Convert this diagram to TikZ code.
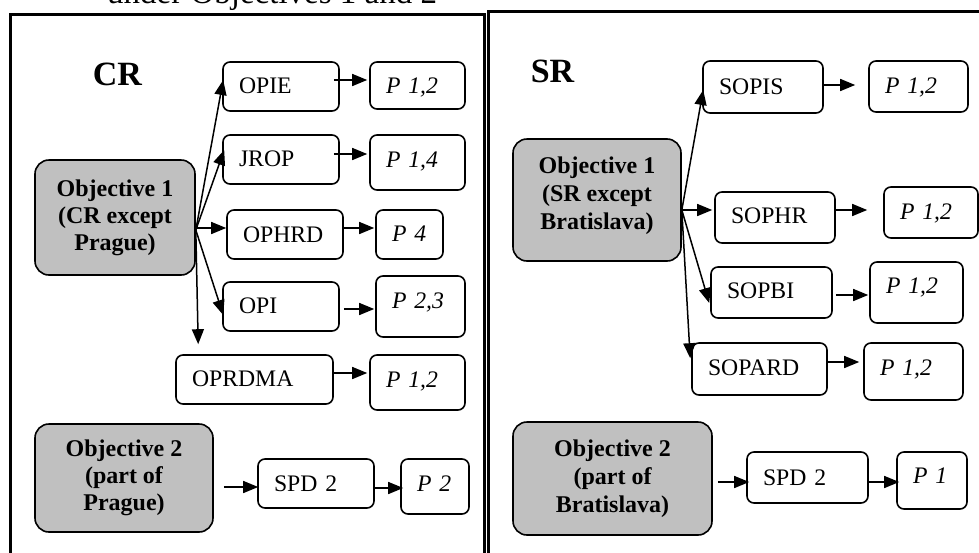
\documentclass[tikz,border=0pt]{standalone}
\usepackage{fontspec}
\setmainfont{Liberation Serif}
\usetikzlibrary{arrows.meta,calc}
\definecolor{objgray}{HTML}{C0C0C0}
\begin{document}
\begin{tikzpicture}[x=1pt,y=-1pt,
  box/.style={draw, line width=1.6pt, rounded corners=7pt, inner xsep=16pt, inner ysep=0pt,
    align=left, font=\fontsize{23.7}{27}\selectfont, text height=16pt, text depth=0pt},
  pbox/.style={box, font=\fontsize{23.7}{27}\selectfont\itshape},
  objbox/.style={draw, line width=1.6pt, rounded corners=14pt, fill=objgray, align=center,
    inner sep=0pt, font=\fontsize{24}{27}\selectfont\bfseries},
  arr/.style={line width=1.5pt, -{Triangle[length=15pt,width=12pt]}},
  panel/.style={line width=3pt},
  country/.style={anchor=base, inner sep=0pt, font=\fontsize{34}{36}\selectfont\bfseries},
]
\useasboundingbox (0,0) rectangle (979,552);
\clip (0,0) rectangle (979,552);

% title (cut off at the top)
\node[anchor=base west, inner sep=0pt, font=\fontsize{33}{36}\selectfont] (title) at (107,3) {under Objectives 1 and 2};

% panels
\draw[panel] (10,14) rectangle (484.5,575);
\draw[panel] (488.5,11.5) rectangle (1000,575);

% ---------------- CR ----------------
\node[country] (cr) at (117.5,85) {CR};
\node[objbox, minimum width=160pt, minimum height=115pt] (obj1) at (115,217.5) {Objective 1\\(CR except\\Prague)};
\node[objbox, minimum width=178pt, minimum height=108pt] (obj2) at (124,478) {Objective 2\\(part of\\Prague)};

\node[box, text width=84pt, minimum height=49pt, text depth=3pt] (opie) at (281,86.5) {OPIE};
\node[pbox, text width=63pt, minimum height=47pt] (p12a) at (417.5,85.5) {P 1,2};
\node[box, text width=84pt, minimum height=49pt, text depth=3pt] (jrop) at (281,159.5) {JROP};
\node[pbox, text width=63pt, minimum height=55pt, text depth=7pt] (p14) at (417.5,162.5) {P 1,4};
\node[box, text width=84pt, minimum height=49pt, text depth=1pt] (ophrd) at (285,234.5) {OPHRD};
\node[pbox, text width=35pt, minimum height=49pt, text depth=2pt] (p4) at (409.5,234.5) {P 4};
\node[box, text width=84pt, minimum height=49pt, text depth=3pt] (opi) at (281,306.5) {OPI};
\node[pbox, text width=57pt, minimum height=61pt, text depth=13pt] (p23) at (420.5,306.5) {P 2,3};
\node[box, text width=125pt, minimum height=49pt, text depth=3pt] (oprdma) at (254.5,379.5) {OPRDMA};
\node[pbox, text width=63pt, minimum height=55pt, text depth=7pt] (p12b) at (417.5,382.5) {P 1,2};
\node[box, text width=84pt, minimum height=49pt, text depth=1pt] (spda) at (316,483.5) {SPD 2};
\node[pbox, text width=36pt, minimum height=55pt, text depth=6pt] (p2) at (435,486.5) {P 2};

\coordinate (s1) at ($(obj1.east)+(0,12.5)$);
\draw[arr] (s1) -- ($(opie.west)+(1,-6.5)$);
\draw[arr] (s1) -- ($(jrop.west)+(2,-9.5)$);
\draw[arr] (s1) -- ($(opi.west)+(1,8.5)$);
\draw[arr] (s1) -- ($(oprdma.north west)+(23,-10)$);
\draw[arr] ($(obj1.east)+(0,10.5)$) -- ($(ophrd.west)+(0,-6.5)$);

\draw[arr] ($(opie.east)+(-6,-6.5)$) -- ($(p12a.west)+(-2,-5.5)$);
\draw[arr] ($(jrop.east)+(-6,-5.5)$) -- ($(p14.west)+(-2,-8.5)$);
\draw[arr] ($(ophrd.east)+(0,-6.5)$) -- ($(p4.west)+(-1,-6.5)$);
\draw[arr] ($(opi.east)+(4,2.5)$) -- ($(p23.west)+(-1,2.5)$);
\draw[arr] ($(oprdma.east)+(0,-6.5)$) -- ($(p12b.west)+(-2,-9.5)$);
\draw[arr] ($(obj2.east)+(10,9)$) -- ($(spda.west)+(1,3.5)$);
\draw[arr] ($(spda.east)+(-1,4.5)$) -- ($(p2.west)+(3,1.5)$);

% ---------------- SR ----------------
\node[country] (sr) at (552.5,82) {SR};
\node[objbox, minimum width=168pt, minimum height=122pt, text depth=14pt,
  font=\fontsize{24}{28}\selectfont\bfseries] (obj1r) at (597,200) {Objective 1\\(SR except\\Bratislava)};
\node[objbox, minimum width=199pt, minimum height=113pt,
  font=\fontsize{24}{28}\selectfont\bfseries] (obj2r) at (612.5,478.5) {Objective 2\\(part of\\Bratislava)};

\node[box, text width=88pt, minimum height=52pt, text depth=2pt] (sopis) at (763,87) {SOPIS};
\node[pbox, text width=67pt, minimum height=51pt, text depth=2pt] (p12c) at (918.5,86.5) {P 1,2};
\node[box, text width=88pt, minimum height=51pt, text depth=5pt] (sophr) at (775,217.5) {SOPHR};
\node[pbox, text width=62pt, minimum height=51pt, text depth=3pt] (p12d) at (931,212.5) {P 1,2};
\node[box, text width=89pt, minimum height=51pt, text depth=5pt] (sopbi) at (771.5,292.5) {SOPBI};
\node[pbox, text width=61pt, minimum height=61pt, text depth=15pt] (p12e) at (916.5,292.5) {P 1,2};
\node[box, text width=103pt, minimum height=52pt, text depth=4pt] (sopard) at (759.5,369) {SOPARD};
\node[pbox, text width=67pt, minimum height=57pt, text depth=9pt] (p12f) at (913.5,371.5) {P 1,2};
\node[box, text width=89pt, minimum height=51pt, text depth=1pt] (spdb) at (807.5,477.5) {SPD 2};
\node[pbox, text width=38pt, minimum height=57pt, text depth=10pt] (p1) at (932,480.5) {P 1};

\coordinate (s2) at ($(obj1r.east)+(0,10)$);
\draw[arr] (s2) -- ($(sopis.west)+(1,3)$);
\draw[arr] (s2) -- ($(sophr.west)+(-2,-7.5)$);
\draw[arr] (s2) -- ($(sopbi.west)+(-1,10.5)$);
\draw[arr] (s2) -- ($(sopard.north west)+(-1,16)$);

\draw[arr] ($(sopis.east)+(-1,-2)$) -- ($(p12c.west)+(-13,-1.5)$);
\draw[arr] ($(sophr.east)+(0,-7.5)$) -- ($(p12d.west)+(-16,-2.5)$);
\draw[arr] ($(sopbi.east)+(3,2.5)$) -- ($(p12e.west)+(-1,2.5)$);
\draw[arr] ($(sopard.east)+(0,-7)$) -- ($(p12f.west)+(-4,-9.5)$);
\draw[arr] ($(obj2r.east)+(5,3.5)$) -- ($(spdb.west)+(3,4.5)$);
\draw[arr] ($(spdb.east)+(-1,4.5)$) -- ($(p1.west)+(3,1.5)$);
\end{tikzpicture}
\end{document}
